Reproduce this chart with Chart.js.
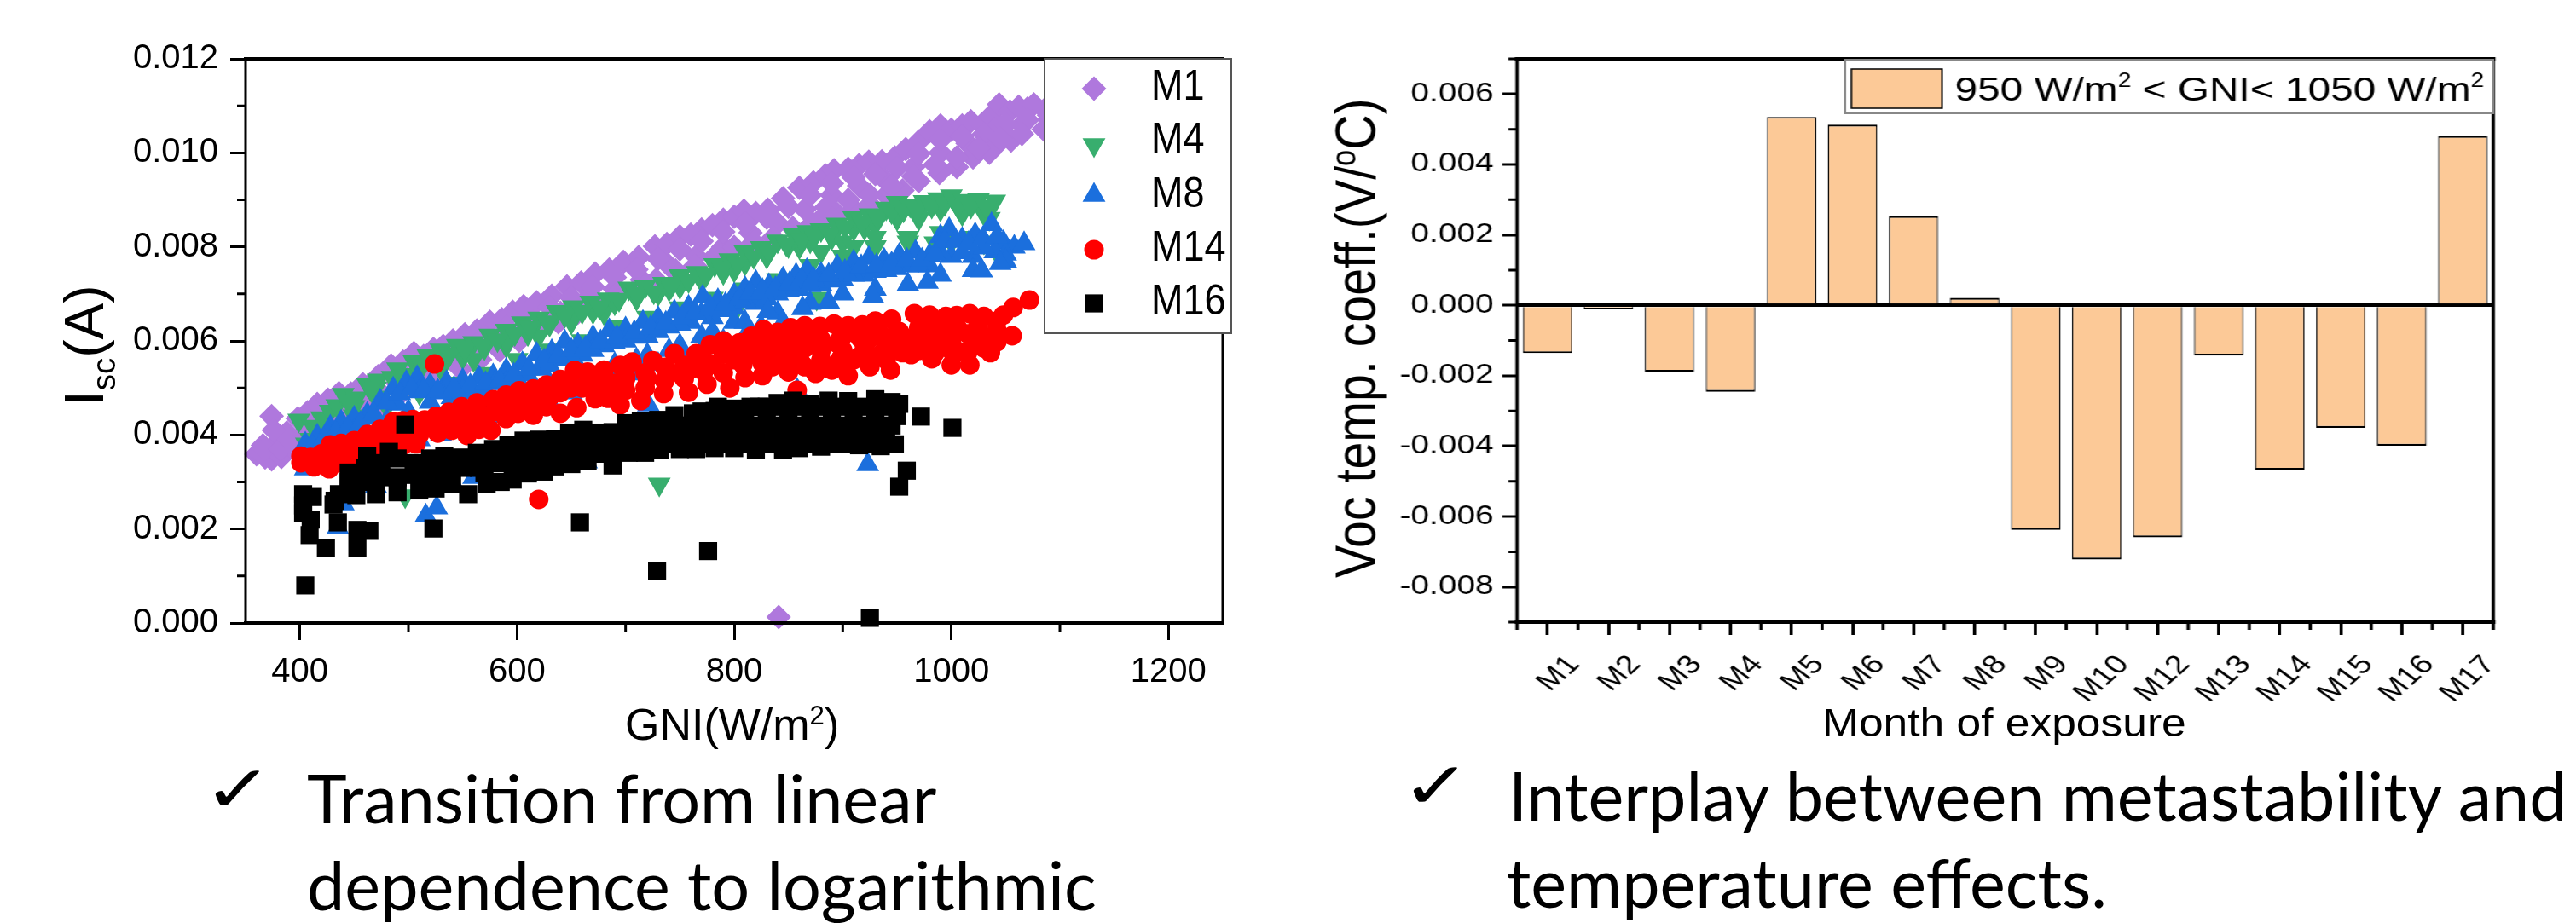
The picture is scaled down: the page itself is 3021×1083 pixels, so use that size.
<!DOCTYPE html>
<html lang="en">
<head>
<meta charset="utf-8">
<title>Isc and Voc temperature coefficient</title>
<script src="https://cdn.jsdelivr.net/npm/chart.js@4/dist/chart.umd.min.js"></script>
<style>
  html, body { margin: 0; padding: 0; background: #fff; }
  #page { position: relative; width: 3021px; height: 1083px; overflow: hidden; }
  canvas { position: absolute; top: 0; }
  #leftChart { left: 0; }
  #rightChart { left: 1500px; transform-origin: 0 0; transform: scaleX(1.25); }
  .t { position: absolute; white-space: nowrap; line-height: 1; transform-origin: 0 0; color: #000;
       font-family: "Liberation Sans", Arial, sans-serif; }
  .t sub, .t sup { line-height: 0; font-size: 60%; }
  .b { font-family: Lato, sans-serif; font-size: 79.2px; }
  .c { font-family: "DejaVu Sans", sans-serif; font-size: 76px; transform: scaleX(1.3); }
</style>
</head>
<body>
<div id="page">
  <canvas id="leftChart" width="1500" height="900"></canvas>
  <canvas id="rightChart" width="1217" height="900"></canvas>

  <div class="t" style="left:0;top:0;font-size:64px;transform:translate(67px,476px) rotate(-90deg)">I<sub>sc</sub>(A)</div>
  <div class="t" style="left:733px;top:824px;font-size:52px">GNI(W/m<sup>2</sup>)</div>
  <div class="t" style="left:0;top:0;font-size:60px;transform:translate(1557px,678px) rotate(-90deg) scale(.955,1.12)">Voc temp. coeff.(V/<sup>o</sup>C)</div>
  <div class="t" style="left:2137px;top:825px;font-size:46px;transform:scaleX(1.12)">Month of exposure</div>

  <div class="t c" style="left:238px;top:888px">✓</div>
  <div class="t b" style="left:360px;top:896px">Transition from linear</div>
  <div class="t b" style="left:360px;top:998px">dependence to logarithmic</div>
  <div class="t c" style="left:1643px;top:884px">✓</div>
  <div class="t b" style="left:1769px;top:893px">Interplay between metastability and</div>
  <div class="t b" style="left:1767px;top:995px">temperature effects.</div>
</div>

<script>
// values, [GNI, Isc]
const m1Points = [
  [360,.00359],[366,.00378],[374,.0044],[380,.00385],[388,.00405],[398,.00435],[407,.00448],[416,.00466],[426,.00475],[436,.00489],
  [447,.00488],[458,.00508],[472,.00525],[484,.00548],[495,.00556],[505,.00574],[514,.00568],[523,.00583],[532,.00589],[541,.00601],
  [552,.00614],[563,.00622],[575,.00641],[586,.00646],[596,.00662],[606,.00674],[618,.00682],[632,.00696],[646,.00716],[659,.00724],
  [672,.00743],[685,.00752],[698,.00768],[712,.00778],[727,.00801],[738,.00806],[750,.00822],[760,.00826],[770,.00837],[780,.00846],
  [790,.00858],[800,.00864],[809,.00877],[820,.00872],[831,.00879],[845,.00903],[860,.00926],[873,.00937],[884,.00952],[892,.00963],
  [905,.00966],[915,.00974],[924,.00981],[936,.00982],[948,.0099],[958,.01008],[970,.01024],[980,.01046],[990,.01058],[1000,.01049],
  [1010,.01058],[1018,.01067],[1028,.0106],[1036,.01078],[1044,.01103],[1054,.01088],[1062,.01098],[1070,.01094],[1076,.01103],[1086,.01092],[1094,.011],
  [362,.00362],[368,.00352],[374,.00348],[376,.00372],[383,.00353],[384,.00395],[392,.00375],[400,.00395],[376,.0041],[420,.0042],[440,.0044],
  [465,.0047],[490,.0051],[515,.0053],[540,.0056],[565,.0058],[590,.0061],[615,.0064],[640,.0066],[665,.0069],[690,.0071],[715,.0073],
  [740,.0076],[765,.0078],[790,.008],[815,.0083],[840,.0085],[865,.0088],[890,.0091],[915,.0093],[940,.0094],[965,.0097],[990,.01],
  [1015,.0102],[1040,.0105],[1065,.0106],[1090,.0107],
  [880,.0086],[895,.0087],[910,.0088],[925,.0089],[940,.0091],[955,.0092],[970,.0094],[989,.00957],[1005,.0097],[1020,.0099],[1035,.01],[1044,.01022],[1055,.01026],
  [368,.0037],[382,.0037],[390,.0039],[396,.0037],[405,.004],[412,.00395],
  [410,.00425],[430,.0045],[450,.00465],[470,.005],[490,.0053],[510,.00548],[530,.00565],[550,.0059],[570,.0061],[590,.0063],[610,.0065],
  [630,.00672],[650,.00692],[670,.00715],[690,.00735],[710,.00752],[730,.00775],[750,.00795],[770,.00812],[790,.00832],[810,.0085],
  [830,.00862],[850,.00885],[870,.0091],[890,.00935],[910,.00948],[930,.00955],[950,.00968],[970,.00998],[990,.01028],[1010,.01035],
  [1030,.0104],[1050,.0106],[1070,.0107],[1090,.0108],
  [885,.00885],[905,.009],[925,.0091],[945,.0093],[965,.0095],[985,.00975],[1005,.0099],[1025,.0101],[1045,.0103],[1065,.0104],[1085,.0105],
  [440,.0042],[458,.0044],[476,.0046],[494,.0049],[512,.005],[530,.0052],[548,.0054],[566,.0056],[584,.0058],[602,.006],[620,.0062],
  [638,.0064],[656,.0066],[674,.0068],[692,.007],[710,.0071],[728,.0073],[746,.0075],[764,.0076],[782,.0078],[800,.008],[818,.0081],
  [836,.0082],[854,.0084],[872,.0085],[890,.0086],
  [841,.000125]
];
const m4Points = [
  [399,.00431],[406,.0038],[412,.00418],[420,.00436],[428,.0045],[434,.00462],[440,.00486],[452,.00478],[462,.00508],[472,.00516],
  [490,.0054],[496,.00528],[505,.00556],[518,.00568],[530,.0058],[545,.0059],[560,.00596],[575,.00612],[590,.00622],[605,.00638],
  [620,.00648],[637,.00662],[652,.00672],[668,.00682],[684,.00689],[703,.00712],[718,.00716],[735,.00722],[750,.00738],[766,.00745],
  [782,.00762],[796,.00772],[810,.00789],[825,.00798],[840,.00812],[855,.00827],[868,.00832],[880,.00836],[895,.00848],[910,.00862],
  [925,.00868],[940,.00882],[950,.00894],[962,.00888],[975,.00896],[988,.00902],[1000,.00908],[1012,.00898],[1025,.009],[1040,.00897],
  [410,.0039],[430,.0041],[450,.0044],[470,.0048],[500,.0051],[530,.0054],[560,.0056],[590,.0059],[620,.0061],[650,.0064],[680,.0066],
  [710,.0069],[740,.0071],[770,.0073],[800,.0075],[830,.0078],[860,.008],[890,.0082],[920,.0084],[950,.0086],[970,.0086],[985,.00808],[1010,.0087],[1035,.0086],
  [450,.0046],[470,.005],[490,.00515],[510,.00535],[530,.0056],[550,.00565],[570,.00585],[590,.006],[610,.00615],[630,.00635],[650,.0065],
  [670,.00662],[690,.0068],[710,.00692],[730,.007],[750,.00715],[770,.00728],[790,.00745],[810,.00765],[830,.0078],[850,.00802],[870,.00812],
  [890,.00825],[910,.00838],[930,.00848],[950,.0087],[970,.0087],[990,.0088],[1010,.00875],[1030,.0087],
  [880,.0079],[900,.0081],[910,.008],[930,.0082],[960,.0082],[990,.0083],[1020,.0082],
  [445,.0047],[465,.00498],[485,.00522],[512,.00548],[538,.00572],[552,.00582],[568,.0059],[582,.00602],[598,.00615],[612,.00628],[628,.0064],
  [644,.00654],[660,.00662],[676,.00672],[694,.00688],[710,.007],[726,.00704],[742,.00716],[758,.00728],[774,.0074],[789,.00754],[803,.00766],
  [818,.00779],[832,.0079],[848,.00806],[862,.00815],[874,.00822],[888,.00828],[902,.00842],[918,.00851],[932,.00862],[945,.00874],[956,.00878],
  [968,.00878],[982,.00886],[994,.00892],[1006,.00886],[1018,.00886],[1032,.00885],
  [460,.0043],[480,.0046],[510,.0049],[540,.0051],[570,.0053],[600,.0056],[630,.0058],[660,.006],[690,.0063],[720,.0065],[750,.0067],[780,.0069],
  [810,.0071],[840,.0073],[870,.0076],[900,.0078],[930,.008],[960,.0081],[1000,.0081],[1030,.0081],
  [876,.0069],[1044,.0078],[692,.00475],[623,.00335],[731,.00295],[497,.0027],[800,.0066],[790,.0068]
];
const m8Points = [
  [405,.00381],[416,.00398],[428,.00417],[438,.00428],[450,.00436],[462,.00444],[474,.00472],[486,.00498],[498,.00512],[508,.00522],
  [520,.00506],[535,.00512],[550,.00516],[565,.00522],[578,.00526],[590,.00538],[605,.00552],[618,.00572],[632,.00578],[644,.00598],
  [656,.00592],[670,.00608],[685,.00622],[700,.00626],[716,.0064],[730,.00648],[745,.00662],[758,.00672],[771,.00694],[785,.00686],
  [800,.00698],[810,.00712],[820,.00725],[832,.00718],[845,.00732],[857,.0074],[867,.0075],[880,.00742],[895,.00758],[910,.00768],
  [924,.00776],[938,.00772],[952,.00782],[967,.00789],[980,.00782],[990,.00822],[998,.00837],[1010,.00816],[1022,.00826],[1037,.00848],
  [1048,.0081],[1058,.008],[1067,.00807],
  [420,.0037],[440,.0039],[460,.0041],[480,.0043],[500,.0045],[520,.0047],[540,.0048],[560,.0049],[580,.0051],[600,.0052],[620,.0054],
  [640,.0056],[660,.0057],[680,.0059],[700,.006],[720,.0061],[740,.0063],[760,.0064],[780,.0065],[800,.0067],[820,.0068],[840,.007],
  [860,.0071],[880,.0072],[900,.0073],[920,.0074],[940,.0075],[960,.0076],[980,.0076],[1000,.0078],[1020,.0078],[1040,.0079],
  [530,.0042],[560,.0044],[590,.0046],[620,.0049],[650,.0051],[680,.0053],[710,.0056],[740,.0058],[770,.0061],[800,.0064],
  [430,.0039],[450,.00408],[470,.00436],[490,.00466],[510,.00492],[530,.0049],[550,.00494],[570,.00498],[590,.0051],[610,.00528],[630,.00548],
  [650,.00566],[670,.0058],[690,.00596],[710,.00608],[730,.0062],[750,.00636],[770,.00658],[790,.00665],[810,.00684],[830,.0069],[850,.00708],
  [870,.00718],[890,.00728],[910,.0074],[930,.00748],[950,.00754],[970,.0076],[990,.0079],[1010,.00788],[1030,.00798],[1050,.00785],
  [540,.0045],[570,.0046],[600,.0049],[630,.0051],[660,.0053],[690,.0055],[720,.0057],[750,.0059],[780,.0062],[810,.0064],[840,.0066],[870,.0068],
  [900,.007],[930,.0071],[960,.0072],[990,.0074],[1020,.0075],[1050,.0077],
  [450,.0036],[470,.0037],[490,.0038],[510,.0039],[530,.004],[550,.0041],[570,.0042],[590,.0044],[610,.0045],[630,.0047],[650,.0049],[670,.005],
  [690,.0052],[710,.0053],[730,.0055],[750,.0057],[770,.0058],[790,.006],[810,.0061],[825,.0063],[845,.0064],
  [412,.00375],[422,.0039],[433,.00405],[444,.00415],[456,.00425],[468,.00445],[480,.00468],[492,.00488],[503,.00498],[514,.00495],[527,.00494],
  [542,.005],[557,.00505],[571,.0051],[584,.00515],[597,.00528],[611,.0054],[625,.00558],[638,.00568],[650,.0058],[663,.00585],[677,.00598],
  [692,.00608],[708,.00618],[723,.00628],[737,.00638],[752,.0065],[764,.0066],[778,.00672],[792,.00678],[805,.0069],[815,.00702],[826,.00708],
  [838,.00712],[851,.00722],[862,.0073],[873,.00732],[887,.0074],[902,.00748],[917,.00758],[931,.0076],[945,.00764],[959,.00772],[973,.00772],
  [985,.00785],[994,.00812],[1004,.00812],[1016,.00808],[1029,.00818],[1042,.00822],
  [831,.00663],[863,.00669],[887,.00683],[928,.00694],[978,.00725],[1028,.00749],[1045,.00765],
  [516,.00228],[526,.00245],[440,.00254],[435,.00203],[541,.00297],[405,.00328],[664,.00343],[923,.00337],[721,.00464],[858,.00495],[470,.0029],[560,.0031]
];
const m14Points = [
  [401,.00355],[410,.00352],[418,.00348],[428,.00379],[438,.00382],[450,.00388],[462,.00401],[474,.00412],[486,.00428],[495,.0043],
  [504,.00433],[515,.00432],[525,.00439],[537,.00448],[549,.0046],[563,.00468],[578,.00475],[590,.00485],[602,.00494],[615,.00498],
  [627,.00506],[640,.00518],[653,.00537],[665,.00534],[680,.00538],[695,.00548],[706,.00555],[725,.00558],[745,.00573],[765,.00573],
  [778,.00592],[790,.006],[805,.00596],[816,.0061],[827,.00624],[840,.00618],[852,.00628],[865,.00632],[879,.00631],[892,.00636],
  [905,.00632],[918,.00634],[930,.00642],[945,.00646],[966,.00658],[980,.00655],[995,.00652],[1005,.00654],[1017,.00658],[1030,.00652],
  [1042,.00642],[1048,.00655],[1057,.00671],[1072,.00687],
  [401,.00341],[413,.00332],[427,.00328],[436,.00341],[450,.00352],[465,.00368],[480,.00374],[495,.00378],[507,.00381],[527,.00404],
  [540,.0041],[554,.00399],[565,.00412],[576,.0041],[590,.00435],[601,.00446],[615,.00442],[627,.0046],[640,.00446],[655,.00458],
  [672,.00477],[684,.00478],[695,.00464],[714,.00473],[735,.00488],[758,.00491],[775,.00508],[796,.005],[810,.00522],[826,.00526],
  [850,.00534],[858,.00495],[875,.00531],[890,.00538],[905,.00526],[925,.00545],[944,.00538],[963,.00571],[982,.00562],[1000,.00549],
  [1017,.00549],[1036,.00575],[1056,.00611],
  [420,.0036],[440,.0037],[460,.0039],[480,.004],[500,.0041],[520,.0042],[540,.0043],[560,.0044],[580,.0045],[600,.0047],[620,.0048],
  [640,.0049],[660,.005],[680,.0051],[700,.0052],[720,.0052],[740,.0053],[760,.0054],[780,.0055],[800,.0056],[820,.0057],[840,.0058],
  [860,.0058],[880,.0058],[900,.0058],[920,.0059],[940,.0059],[960,.006],[980,.006],[1000,.006],[1020,.006],[1040,.0061],
  [800,.0058],[825,.006],[850,.0061],[875,.0061],[900,.0061],[925,.0062],[950,.0062],[975,.0063],[1000,.0063],[1025,.0063],
  [850,.0056],[880,.0056],[910,.0056],[940,.0056],[970,.0058],[1000,.0058],[1030,.0059],
  [700,.00525],[718,.00532],[736,.00544],[754,.00548],[772,.00558],[790,.00572],[808,.0057],[826,.00596],[844,.00592],[862,.00604],[880,.00603],
  [898,.00605],[916,.00606],[934,.00616],[952,.0062],[970,.00628],[988,.00626],[1006,.00626],[1024,.00628],[1042,.00622],
  [700,.00495],[718,.005],[736,.00515],[754,.0052],[772,.00535],[790,.00532],[808,.0055],[826,.00552],[844,.0056],[862,.00552],[880,.00558],
  [898,.00562],[916,.00568],[934,.0057],[952,.00585],[970,.00592],[988,.00588],[1006,.00578],[1024,.0059],[1042,.00598],
  [430,.0036],[450,.0037],[470,.0038],[490,.0039],[510,.004],[530,.0042],[550,.0043],[570,.0044],[590,.0046],[610,.0047],[630,.0048],[650,.005],[670,.0051],[690,.0051],
  [810,.00585],[835,.00585],[865,.00585],[895,.00595],[925,.00605],[955,.0061],[985,.00615],[1015,.00615],[1035,.00605],
  [835,.00545],[865,.00545],[895,.0055],[925,.00555],[955,.00575],[985,.00575],[1015,.00575],[1030,.00585],
  [524,.00551],[620,.00263]
];
const m16Points = [
  [462,.00355],[470,.0033],[482,.00364],[497,.00422],[505,.00315],[520,.00342],[533,.00355],[548,.00352],[563,.00362],[578,.0037],
  [592,.00378],[606,.00388],[620,.0039],[635,.00391],[648,.00405],[661,.00411],[675,.00405],[688,.00406],[700,.00425],[714,.0043],
  [730,.00432],[745,.00442],[762,.00446],[782,.00451],[800,.00456],[823,.0046],[840,.00468],[854,.00473],[870,.00465],[887,.00473],
  [905,.00472],[930,.00476],[945,.0047],[952,.00466],
  [436,.00274],[452,.00272],[470,.00274],[490,.00278],[510,.00282],[525,.00286],[540,.00295],[555,.00274],[572,.00295],[585,.003],
  [596,.00305],[610,.00318],[625,.00322],[635,.00333],[650,.00338],[665,.00345],[688,.00335],[703,.00362],[718,.00362],[732,.00368],
  [750,.0037],[765,.0037],[782,.00372],[800,.00372],[820,.00368],[845,.00368],[860,.00372],[880,.00375],[899,.00381],[915,.00378],[935,.00376],[948,.0038],
  [445,.003],[460,.003],[475,.0031],[490,.0031],[505,.0032],[520,.0032],[535,.0032],[550,.0033],[565,.0033],[580,.0034],[595,.0034],
  [610,.0035],[625,.0035],[640,.0036],[655,.0037],[670,.0038],[685,.0038],[700,.0039],[715,.0039],[730,.004],[745,.004],[760,.004],
  [775,.004],[790,.004],[805,.004],[820,.004],[835,.004],[850,.004],[865,.004],[880,.004],[895,.004],[910,.004],[925,.004],[940,.004],
  [770,.0043],[790,.0043],[810,.0044],[830,.0044],[850,.0044],[870,.0044],[890,.0044],[910,.0044],[930,.0044],[950,.0044],
  [765,.0042],[780,.0042],[795,.0042],[810,.0042],[825,.0042],[840,.0042],[855,.0042],[870,.0042],[885,.0042],[900,.0042],[915,.0042],[930,.0042],[945,.0042],
  [445,.0032],[460,.0033],[475,.0034],[490,.0035],[505,.0034],[520,.0035],[540,.0031],[570,.0032],[600,.0033],[630,.0034],[660,.0036],[690,.0037],[720,.0038],
  [770,.0045],[785,.0046],[815,.0046],[830,.0046],[845,.0046],[860,.0046],[875,.0046],[895,.0046],[915,.0046],[935,.0046],
  [775,.0038],[790,.0038],[805,.0038],[820,.0038],[835,.0038],[850,.0038],[865,.0038],[880,.0038],[895,.0038],[910,.0038],[925,.0038],[940,.0038],
  [600,.0036],[615,.0037],[630,.0038],[645,.0039],[660,.0039],[675,.0039],[690,.004],[705,.0041],[720,.0041],[735,.0042],[750,.0042],
  [640,.0034],[655,.0035],[670,.0036],[685,.0036],[700,.0037],[715,.0037],[730,.0038],[745,.0038],[760,.0038],
  [530,.0034],[545,.0034],[560,.0035],[575,.0036],[590,.0036],
  [403,.00274],[403,.00234],[412,.00268],[403,.0025],[410,.0022],[431,.00252],[435,.00214],[409,.00187],[424,.0016],[453,.00198],
  [464,.00196],[453,.0016],[523,.00201],[405,.0008],[658,.00214],[729,.0011],[776,.00153],[925,.00011],[972,.00439],[1001,.00415],
  [959,.00324],[952,.0029],[432,.0026],[445,.0028]
];
const gniTicks = [400,500,600,700,800,900,1000,1100,1200];

// values
const months = ['M1','M2','M3','M4','M5','M6','M7','M8','M9','M10','M12','M13','M14','M15','M16','M17'];
const vocCoeff = [-0.00136,-0.00009,-0.00189,-0.00246,0.00535,0.00513,0.00253,0.00021,-0.00638,-0.00722,-0.00659,-0.00143,-0.00467,-0.00348,-0.00399,0.00481];

const toXY = list => list.map(p => ({ x: p[0], y: p[1] }));
const tickFont = "'Liberation Sans', Arial, sans-serif";
const isMajor = v => Math.round(Math.abs(v) * 1000) % 2 === 0;
const fmt = v => Math.abs(v) < 1e-9 ? '0.000' : v.toFixed(3);

// draws the short minor ticks and the box round the plot
function frame(chart, minor) {
  const { ctx, chartArea: a } = chart;
  ctx.save();
  ctx.strokeStyle = '#000';
  ctx.lineWidth = 3;
  minor(ctx, a);
  ctx.beginPath();
  ctx.moveTo(a.left, a.top); ctx.lineTo(a.left, a.bottom);
  ctx.moveTo(a.right, a.top); ctx.lineTo(a.right, a.bottom);
  ctx.stroke();
  ctx.lineWidth = 4;
  ctx.beginPath();
  ctx.moveTo(a.left - 2, a.top); ctx.lineTo(a.right + 2, a.top);
  ctx.moveTo(a.left - 2, a.bottom); ctx.lineTo(a.right + 2, a.bottom);
  ctx.stroke();
  ctx.restore();
}

const leftPlugin = {
  id: 'leftExtras',
  afterDraw(chart) {
    frame(chart, (ctx, a) => {
      const sx = chart.scales.x, sy = chart.scales.y;
      ctx.beginPath();
      sx.ticks.forEach(t => {
        if (t.value % 200 !== 0) { const p = sx.getPixelForValue(t.value); ctx.moveTo(p, a.bottom); ctx.lineTo(p, a.bottom + 11); }
      });
      sy.ticks.forEach(t => {
        if (!isMajor(t.value)) { const p = sy.getPixelForValue(t.value); ctx.moveTo(a.left, p); ctx.lineTo(a.left - 10, p); }
      });
      ctx.stroke();
    });
    // legend box
    const ctx = chart.ctx;
    ctx.save();
    ctx.fillStyle = '#fff';
    ctx.fillRect(1225, 69, 219, 322);
    ctx.strokeStyle = '#555';
    ctx.lineWidth = 2;
    ctx.strokeRect(1225, 69, 219, 322);
    const rowY = [104, 170, 229, 293, 356];
    const textY = [103, 165, 229, 292, 355];
    chart.data.datasets.forEach((d, i) => {
      ctx.fillStyle = d.pointBackgroundColor;
      Chart.helpers.drawPoint(ctx, { pointStyle: d.pointStyle, rotation: d.pointRotation || 0, radius: d.pointRadius, borderWidth: 0 }, 1283, rowY[i]);
      ctx.fillStyle = '#000';
      ctx.font = "50px " + tickFont;
      ctx.textBaseline = 'middle';
      ctx.save();
      ctx.translate(1350, textY[i]);
      ctx.scale(0.9, 1);
      ctx.fillText(d.label, 0, 0);
      ctx.restore();
    });
    ctx.restore();
  }
};

new Chart(document.getElementById('leftChart'), {
  type: 'scatter',
  data: {
    datasets: [
      { label: 'M1', data: toXY(m1Points), pointStyle: 'rectRot', pointRadius: 14.5, pointBackgroundColor: '#AF78DD', order: 5 },
      { label: 'M4', data: toXY(m4Points), pointStyle: 'triangle', pointRotation: 180, pointRadius: 15.5, pointBackgroundColor: '#38AE6E', order: 4 },
      { label: 'M8', data: toXY(m8Points), pointStyle: 'triangle', pointRadius: 15.5, pointBackgroundColor: '#1B6FDD', order: 3 },
      { label: 'M14', data: toXY(m14Points), pointStyle: 'circle', pointRadius: 11.5, pointBackgroundColor: '#FF0000', order: 2 },
      { label: 'M16', data: toXY(m16Points), pointStyle: 'rect', pointRadius: 15, pointBackgroundColor: '#000000', order: 1 }
    ].map(d => Object.assign(d, { pointBorderWidth: 0, clip: false }))
  },
  options: {
    responsive: false,
    animation: false,
    layout: { padding: { top: 69, right: 66, left: 0, bottom: 0 } },
    plugins: { legend: { display: false }, tooltip: { enabled: false } },
    scales: {
      x: {
        type: 'linear', min: 350, max: 1250,
        afterFit: s => { s.height = 169; },
        afterBuildTicks: s => { s.ticks = gniTicks.map(v => ({ value: v })); },
        border: { display: false },
        grid: { drawOnChartArea: false, tickLength: 20, tickWidth: 3, tickColor: c => c.tick && c.tick.value % 200 === 0 ? '#000' : 'transparent' },
        ticks: { autoSkip: false, maxRotation: 0, padding: 14, color: '#000', font: { size: 40, family: tickFont }, callback: v => v % 200 === 0 ? String(v) : '' }
      },
      y: {
        min: 0, max: 0.012,
        afterFit: s => { s.width = 288; },
        border: { display: false },
        grid: { drawOnChartArea: false, tickLength: 18, tickWidth: 3, tickColor: c => c.tick && isMajor(c.tick.value) ? '#000' : 'transparent' },
        ticks: { stepSize: 0.001, autoSkip: false, padding: 14, color: '#000', font: { size: 40, family: tickFont }, callback: v => isMajor(v) ? fmt(v) : '' }
      }
    }
  },
  plugins: [leftPlugin]
});

const rightPlugin = {
  id: 'rightExtras',
  afterDraw(chart) {
    frame(chart, (ctx, a) => {
      const sx = chart.scales.x, sy = chart.scales.y;
      const step = sx.width / months.length;
      ctx.beginPath();
      for (let i = 0; i <= months.length; i++) {
        const p = a.left + i * step;
        ctx.moveTo(p, a.bottom); ctx.lineTo(p, a.bottom + 9);
      }
      sy.ticks.forEach(t => {
        if (!isMajor(t.value)) { const p = sy.getPixelForValue(t.value); ctx.moveTo(a.left, p); ctx.lineTo(a.left - 8, p); }
      });
      ctx.stroke();
    });
    // legend box
    const ctx = chart.ctx;
    ctx.save();
    const left = 531, right = 1139;
    ctx.fillStyle = '#fff';
    ctx.fillRect(left, 70, right - left, 63);
    ctx.strokeStyle = '#888';
    ctx.lineWidth = 2;
    ctx.strokeRect(left, 70, right - left, 63);
    ctx.fillStyle = chart.data.datasets[0].backgroundColor;
    ctx.fillRect(537, 81, 85, 46);
    ctx.strokeStyle = '#000';
    ctx.lineWidth = 1.5;
    ctx.strokeRect(537, 81, 85, 46);
    ctx.fillStyle = '#000';
    ctx.textBaseline = 'alphabetic';
    ctx.translate(634, 0);
    ctx.scale(0.98, 1);
    let x = 0;
    [['950 W/m', 39, 118], ['2', 23, 102], [' < GNI< 1050 W/m', 39, 118], ['2', 23, 102]].forEach(s => {
      ctx.font = s[1] + 'px ' + tickFont;
      ctx.fillText(s[0], x, s[2]);
      x += ctx.measureText(s[0]).width;
    });
    ctx.restore();
  }
};

new Chart(document.getElementById('rightChart'), {
  type: 'bar',
  data: {
    labels: months,
    datasets: [{
      label: '950 W/m2 < GNI< 1050 W/m2',
      data: vocCoeff,
      backgroundColor: '#FCC997',
      borderColor: '#000',
      borderWidth: { left: 1.2, right: 1.2, top: 2.2, bottom: 2.2 },
      borderSkipped: 'start',
      categoryPercentage: 0.81,
      barPercentage: 1
    }]
  },
  options: {
    responsive: false,
    animation: false,
    layout: { padding: { top: 69, right: 77.8, left: 0, bottom: 0 } },
    plugins: { legend: { display: false }, tooltip: { enabled: false } },
    scales: {
      x: {
        offset: true,
        afterFit: s => { s.height = 170; },
        border: { display: false },
        grid: { offset: false, drawOnChartArea: false, tickLength: 15, tickWidth: 3, tickColor: '#000' },
        ticks: { autoSkip: false, minRotation: 48, maxRotation: 48, padding: 17, labelOffset: 25, color: '#000', font: { size: 31, family: tickFont } }
      },
      y: {
        min: -0.009, max: 0.007,
        afterFit: s => { s.width = 223.2; },
        border: { display: false },
        grid: {
          drawOnChartArea: true, tickLength: 14, tickWidth: 3,
          lineWidth: c => c.tick && Math.abs(c.tick.value) < 1e-9 ? 4 : 0,
          color: '#000',
          tickColor: c => c.tick && isMajor(c.tick.value) ? '#000' : 'transparent'
        },
        ticks: { stepSize: 0.001, autoSkip: false, padding: 8, color: '#000', font: { size: 31, family: tickFont }, callback: v => isMajor(v) ? fmt(v) : '' }
      }
    }
  },
  plugins: [rightPlugin]
});
</script>
</body>
</html>
